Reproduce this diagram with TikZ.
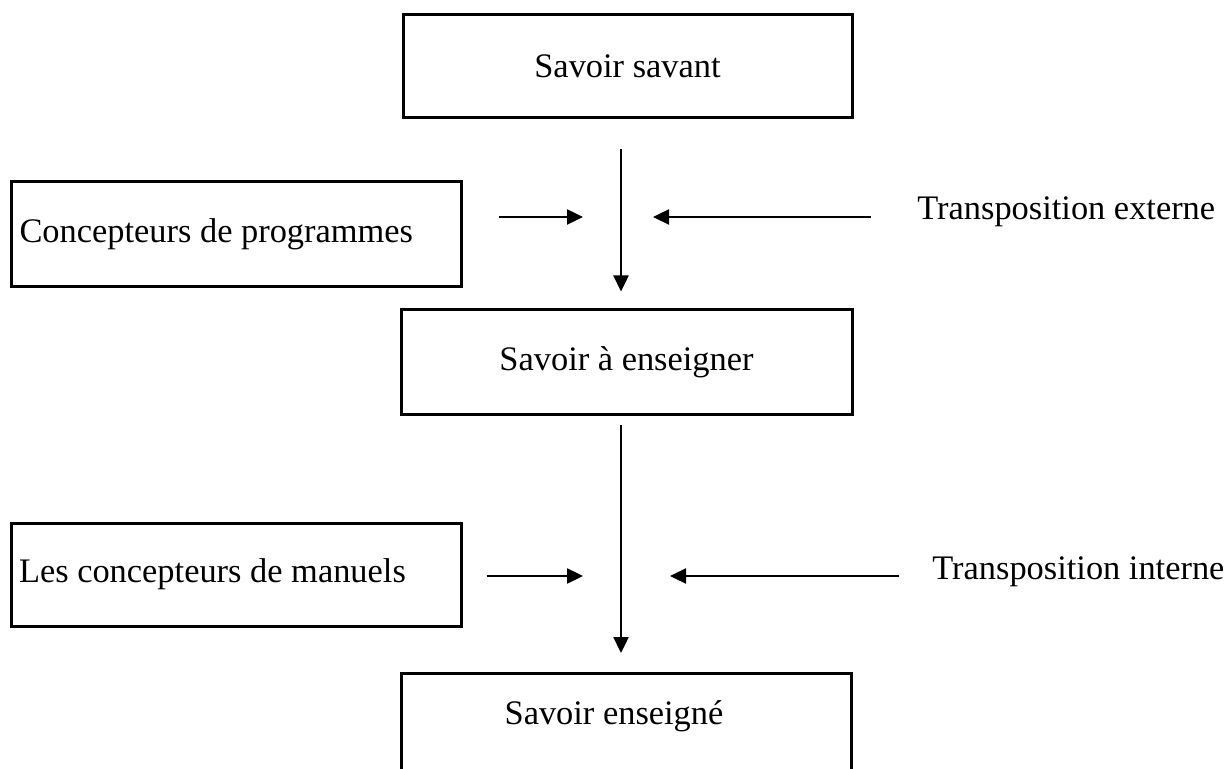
\documentclass[tikz,border=0pt]{standalone}
\usepackage{fontspec}
\setmainfont{Liberation Serif}
\usetikzlibrary{arrows.meta,calc}
\begin{document}
\begin{tikzpicture}[x=0.5pt,y=-0.5pt,
  box/.style={draw,line width=1.5pt,inner sep=0pt,font=\fontsize{17.2}{20}\selectfont},
  lbl/.style={inner sep=0pt,font=\fontsize{17.2}{20}\selectfont},
  arr/.style={line width=1.2pt,-{Triangle[length=8pt,width=7.5pt]}}]
\useasboundingbox (0,0) rectangle (1229,769);
\clip (0,0) rectangle (1229,769);
% main boxes
\node[box,minimum width=224.5pt,minimum height=51.5pt] (ss) at (627.5,66.5) {Savoir savant};
\node[box,minimum width=225.5pt,minimum height=52pt] (sae) at (626.5,362) {Savoir à enseigner};
\node[box,minimum width=225pt,minimum height=60pt,anchor=north] (se) at (626,672) {};
\node[lbl] (set) at (614,716) {Savoir enseigné};
% side boxes
\node[box,minimum width=225pt,minimum height=52.5pt,text width=217pt,inner xsep=4pt,align=flush left] (cp) at (236.5,234.5) {Concepteurs de programmes};
\node[box,minimum width=225pt,minimum height=51.5pt,text width=217pt,inner xsep=4pt,align=flush left] (cm) at (236,574.5) {Les concepteurs de manuels};
% right labels
\node[lbl,anchor=west] (te) at (917,212) {Transposition externe};
\node[lbl,anchor=west] (ti) at (932,572) {Transposition interne};
% vertical arrows
\draw[arr] ($(ss.south)+(-6.5,30)$) -- ($(sae.north)+(-5.5,-17)$);
\draw[arr] ($(sae.south)+(-5.5,9)$) -- ($(se.north)+(-5,-19)$);
% horizontal arrows
\coordinate (h1) at (583,217);
\coordinate (h2) at (653,217);
\coordinate (h3) at (583,576);
\coordinate (h4) at (670,576);
\draw[arr] ($(cp.east)+(36,-17.5)$) -- (h1);
\draw[arr] ($(te.west)+(-46,5)$) -- (h2);
\draw[arr] ($(cm.east)+(24,1.5)$) -- (h3);
\draw[arr] ($(ti.west)+(-33,4)$) -- (h4);
\end{tikzpicture}
\end{document}
